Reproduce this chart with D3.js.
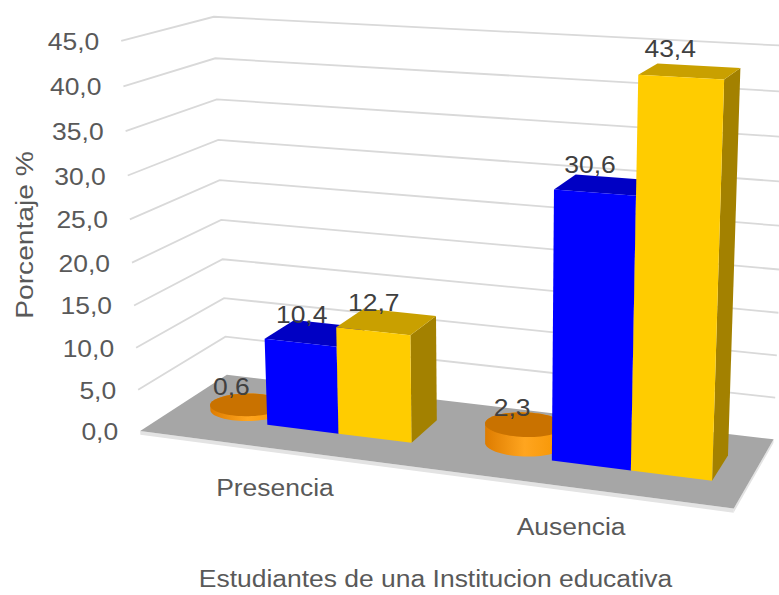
<!DOCTYPE html>
<html><head><meta charset="utf-8">
<script src="https://cdn.jsdelivr.net/npm/d3@7"></script>
<style>
body{margin:0;background:#fff}
text{font-family:"Liberation Sans",Arial,Helvetica,sans-serif}
</style>
</head><body>
<svg id="chart" width="779" height="595"></svg>
<script>
// ---------- data ----------
const categories = ["Presencia", "Ausencia"];
const seriesKeys = ["s1", "s2", "s3"];
const s1Values = [0.6, 2.3];    // orange (cylinder)
const s2Values = [10.4, 30.6];  // blue
const s3Values = [12.7, 43.4];  // yellow
const yTicks = [0, 5, 10, 15, 20, 25, 30, 35, 40, 45];
const yTickLabels = ["0,0", "5,0", "10,0", "15,0", "20,0", "25,0", "30,0", "35,0", "40,0", "45,0"];
const valueLabels = [["0,6", "2,3"], ["10,4", "30,6"], ["12,7", "43,4"]];
const xTitle = "Estudiantes de una Institucion educativa";
const yTitle = "Porcentaje %";

// ---------- styles ----------
const styles = {
  s1: {shape: "cylinder", top: "#c97200", side: ["#de7c00", "#ffa51f", "#f59400"]},
  s2: {shape: "box", front: "#0000ff", top: "#0000c4", side: "#00009c"},
  s3: {shape: "box", front: "#ffcc00", top: "#c9a000", side: "#a38100"}
};
const seriesValues = {s1: s1Values, s2: s2Values, s3: s3Values};

// ---------- 3D frame (plot box on screen: [X 0..1, value, Z 0 back..1 front, px, py]) ----------
const frameAnchors = [
  [0, 0, 0, 227, 376], [0, 5, 0, 226, 337], [0, 20, 0, 222, 219], [0, 35, 0, 217, 99], [0, 45, 0, 213, 16],
  [0, 0, 1, 140, 431], [0, 5, 1, 137, 388], [0, 20, 1, 132, 263], [0, 35, 1, 125, 132], [0, 45, 1, 122, 42],
  [1, 0, 0, 773, 439.5], [1, 5, 0, 774.7, 398], [1, 30, 0, 783.3, 182.3], [1, 45, 0, 788.8, 45.3],
  [1, 0, 1, 735, 508]
];

const yScale = d3.scaleLinear().domain([0, 45]).range([0, 1]);
const xBand = d3.scaleBand().domain(categories).range([0, 1]).paddingInner(0.22).paddingOuter(0.11);
const sBand = d3.scaleBand().domain(seriesKeys).range([0, xBand.bandwidth()]);
const zBand = d3.scaleBand().domain(["row"]).range([0, 1]).padding(0.46);

// fit a projective camera (DLT, least squares)
const CX = 400, CY = 300, SC = 400;
function fitCamera(pts) {
  const rows = [], rhs = [];
  pts.forEach(([X, Y, Z, px, py]) => {
    const u = (px - CX) / SC, v = (py - CY) / SC;
    rows.push([X, Y, Z, 1, 0, 0, 0, 0, -u * X, -u * Y, -u * Z]); rhs.push(u);
    rows.push([0, 0, 0, 0, X, Y, Z, 1, -v * X, -v * Y, -v * Z]); rhs.push(v);
  });
  const n = 11;
  const M = Array.from({length: n}, () => new Array(n + 1).fill(0));
  rows.forEach((r, k) => {
    for (let i = 0; i < n; i++) {
      for (let j = 0; j < n; j++) M[i][j] += r[i] * r[j];
      M[i][n] += r[i] * rhs[k];
    }
  });
  for (let c = 0; c < n; c++) {
    let p = c;
    for (let r = c + 1; r < n; r++) if (Math.abs(M[r][c]) > Math.abs(M[p][c])) p = r;
    [M[c], M[p]] = [M[p], M[c]];
    for (let r = 0; r < n; r++) {
      if (r === c) continue;
      const f = M[r][c] / M[c][c];
      for (let k = c; k <= n; k++) M[r][k] -= f * M[c][k];
    }
  }
  return M.map((row, i) => row[n] / row[i]);
}
const P = fitCamera(frameAnchors.map(([x, v, z, px, py]) => [x, yScale(v), z, px, py]));
function proj(x, y, z) {
  const d = P[8] * x + P[9] * y + P[10] * z + 1;
  const u = (P[0] * x + P[1] * y + P[2] * z + P[3]) / d;
  const v = (P[4] * x + P[5] * y + P[6] * z + P[7]) / d;
  return [u * SC + CX, v * SC + CY];
}

const svg = d3.select("#chart");
const defs = svg.append("defs");
const g = svg.append("g");
const line = d3.line();
const poly = pts => line(pts.map(p => proj(p[0], p[1], p[2]))) + "Z";

// gridlines on left and back walls
g.selectAll("path.grid").data(yTicks.filter(v => v > 0)).join("path")
  .attr("class", "grid")
  .attr("d", v => line([proj(0, yScale(v), 1), proj(0, yScale(v), 0), proj(1, yScale(v), 0)]))
  .attr("fill", "none").attr("stroke", "#d9d9d9").attr("stroke-width", 1.8);

// floor
const th = yScale(-0.45);
g.append("path").attr("d", poly([[0, 0, 1], [1, 0, 1], [1, th, 1], [0, th, 1]])).attr("fill", "#e3e3e3");
g.append("path").attr("d", poly([[1, 0, 0], [1, 0, 1], [1, th, 1], [1, th, 0]])).attr("fill", "#e3e3e3");
g.append("path").attr("d", poly([[0, 0, 0], [1, 0, 0], [1, 0, 1], [0, 0, 1]])).attr("fill", "#a6a6a6");

// side gradient for cylinders
const grad = defs.append("linearGradient").attr("id", "cylSide").attr("x1", 0).attr("x2", 1).attr("y1", 0).attr("y2", 0);
styles.s1.side.forEach((c, i, a) => grad.append("stop").attr("offset", i / (a.length - 1)).attr("stop-color", c));

const z0 = zBand("row"), z1 = z0 + zBand.bandwidth();
const labels = [];
categories.forEach((cat, ci) => {
  seriesKeys.forEach((key, si) => {
    const val = seriesValues[key][ci];
    const st = styles[key];
    const x0 = xBand(cat) + sBand(key), x1 = x0 + sBand.bandwidth();
    const xc = (x0 + x1) / 2;
    const top = yScale(val);
    const bar = g.append("g");
    if (st.shape === "cylinder") {
      const zc = (z0 + z1) / 2, rx = (x1 - x0) / 2, rz = (z1 - z0) / 2;
      const ts = d3.range(0, 72).map(i => i / 72 * 2 * Math.PI);
      const bot = ts.map(t => proj(xc + rx * Math.cos(t), 0, zc + rz * Math.sin(t)));
      const tp = ts.map(t => proj(xc + rx * Math.cos(t), top, zc + rz * Math.sin(t)));
      const hull = d3.polygonHull(bot.concat(tp));
      bar.append("path").attr("d", line(hull) + "Z").attr("fill", "url(#cylSide)");
      bar.append("path").attr("d", line(tp) + "Z").attr("fill", st.top);
    } else {
      bar.append("path").attr("d", poly([[x1, 0, z0], [x1, 0, z1], [x1, top, z1], [x1, top, z0]])).attr("fill", st.side);
      bar.append("path").attr("d", poly([[x0, top, z0], [x1, top, z0], [x1, top, z1], [x0, top, z1]])).attr("fill", st.top);
      bar.append("path").attr("d", poly([[x0, 0, z1], [x1, 0, z1], [x1, top, z1], [x0, top, z1]])).attr("fill", st.front);
    }
    labels.push({text: valueLabels[si][ci], x: proj(xc, 0, z1)[0], y: proj(xc, top, z1)[1]});
  });
});

const FS = 24.5, SX = 1.08;
function txt(sel, x, y, s, anchor, color, rot, sx) {
  return sel.append("text")
    .attr("transform", `translate(${x},${y})` + (rot ? ` rotate(${rot})` : "") + ` scale(${sx || SX},1)`)
    .attr("text-anchor", anchor).attr("font-size", FS).attr("fill", color).text(s);
}

// value labels
labels.forEach(l => txt(svg, l.x - 1, l.y - 20, l.text, "middle", "#404040"));

// y tick labels
yTicks.forEach((v, i) => {
  const p = proj(0, yScale(v), 1);
  txt(svg, p[0] - 22, p[1] + 9, yTickLabels[i], "end", "#595959");
});

// category labels
categories.forEach(cat => {
  const p = proj(xBand(cat) + xBand.bandwidth() / 2, 0, 1);
  txt(svg, p[0] - 2, p[1] + 47, cat, "middle", "#595959");
});

// axis titles
txt(svg, 435.5, 586.5, xTitle, "middle", "#595959");
txt(svg, 33, 235, yTitle, "middle", "#595959", -90, 1.15);
</script>
</body></html>
